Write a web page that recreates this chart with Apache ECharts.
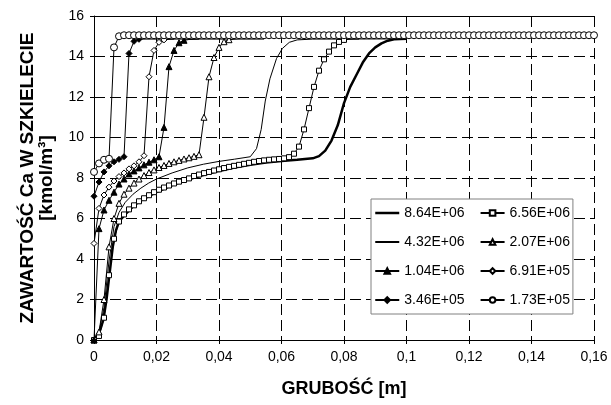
<!DOCTYPE html>
<html>
<head>
<meta charset="utf-8">
<script src="https://cdn.jsdelivr.net/npm/echarts@6/dist/echarts.min.js"></script>
<style>
html,body{margin:0;padding:0;background:#fff;}
#chart{width:611px;height:405px;}
</style>
</head>
<body>
<div id="chart"></div>
<script>
// siatka grubosci [m] dla serii z markerami
var xs = [0, 0.0016, 0.0032, 0.0048, 0.0064, 0.008, 0.0096, 0.0112, 0.0128, 0.0144, 0.016, 0.0176, 0.0192, 0.0208, 0.0224, 0.024, 0.0256, 0.0272, 0.0288, 0.0304,
  0.032, 0.0336, 0.0352, 0.0368, 0.0384, 0.04, 0.0416, 0.0432, 0.0448, 0.0464, 0.048, 0.0496, 0.0512, 0.0528, 0.0544, 0.056, 0.0576, 0.0592, 0.0608, 0.0624,
  0.064, 0.0656, 0.0672, 0.0688, 0.0704, 0.072, 0.0736, 0.0752, 0.0768, 0.0784, 0.08, 0.0816, 0.0832, 0.0848, 0.0864, 0.088, 0.0896, 0.0912, 0.0928, 0.0944,
  0.096, 0.0976, 0.0992, 0.1008, 0.1024, 0.104, 0.1056, 0.1072, 0.1088, 0.1104, 0.112, 0.1136, 0.1152, 0.1168, 0.1184, 0.12, 0.1216, 0.1232, 0.1248, 0.1264,
  0.128, 0.1296, 0.1312, 0.1328, 0.1344, 0.136, 0.1376, 0.1392, 0.1408, 0.1424, 0.144, 0.1456, 0.1472, 0.1488, 0.1504, 0.152, 0.1536, 0.1552, 0.1568, 0.1584, 0.16];

// 8.64E+06 (gruba linia, bez markerow)
var thickX = [0, 0.002, 0.003, 0.004, 0.005, 0.006, 0.007, 0.008, 0.01, 0.0125, 0.015, 0.02, 0.025, 0.03, 0.035, 0.04, 0.045, 0.05, 0.055, 0.06,
  0.065, 0.07, 0.072, 0.074, 0.076, 0.078, 0.08, 0.082, 0.084, 0.086, 0.088, 0.09, 0.092, 0.094, 0.096, 0.1];
var thickY = [0, 0.5, 1.0, 2.0, 3.3, 4.6, 5.4, 5.85, 6.2, 6.6, 6.9, 7.3, 7.65, 7.92, 8.15, 8.35, 8.52, 8.65, 8.76, 8.84,
  8.9, 8.97, 9.08, 9.35, 9.85, 10.6, 11.7, 12.5, 13.1, 13.7, 14.15, 14.45, 14.65, 14.78, 14.85, 14.88];

// 4.32E+06 (cienka linia, bez markerow)
var thinX = [0, 0.0016, 0.0032, 0.0048, 0.0064, 0.008, 0.01, 0.0125, 0.015, 0.0175, 0.02, 0.025, 0.03, 0.035, 0.04, 0.045, 0.05, 0.052, 0.0535, 0.0548,
  0.0563, 0.0584, 0.0603, 0.0625, 0.065, 0.07, 0.1];
var thinY = [0, 0.4, 1.6, 3.9, 5.6, 6.3, 6.8, 7.2, 7.5, 7.75, 7.95, 8.25, 8.5, 8.68, 8.82, 8.93, 9.05, 9.45, 10.4, 11.8,
  12.9, 13.9, 14.4, 14.7, 14.82, 14.86, 14.87];

// serie z markerami (wartosci na siatce xs), ostatnie punkty to plaska linia bez markerow
var sq656 = [0, 0.2, 1.1, 3.2, 5.0, 5.85, 6.2, 6.45, 6.65, 6.85, 7.0, 7.15, 7.3, 7.42, 7.53, 7.63, 7.73, 7.82, 7.9, 7.98,
  8.1, 8.17, 8.24, 8.3, 8.37, 8.43, 8.49, 8.55, 8.6, 8.65, 8.7, 8.75, 8.8, 8.84, 8.87, 8.9, 8.92, 8.94, 8.97, 9.03,
  9.2, 9.55, 10.4, 11.45, 12.5, 13.3, 13.86, 14.24, 14.55, 14.72, 14.82, 14.85, 14.86, 14.86];
var tri207 = [0, 0.4, 2.0, 4.6, 6.0, 6.75, 7.2, 7.5, 7.75, 7.95, 8.12, 8.27, 8.4, 8.52, 8.62, 8.72, 8.8, 8.87, 8.94, 9.0,
  9.07, 9.15, 11.0, 13.0, 13.95, 14.45, 14.73, 14.83, 14.85, 14.86, 14.86, 14.86, 14.86, 14.86, 14.86];
var tri104 = [0, 5.5, 6.42, 6.9, 7.3, 7.7, 7.95, 8.2, 8.35, 8.5, 8.65, 8.78, 8.9, 9.05, 10.5, 13.5, 14.3, 14.68, 14.8,
  14.84, 14.85, 14.86, 14.86, 14.86, 14.86, 14.86, 14.86, 14.86];
var dia691 = [4.77, 6.5, 7.16, 7.55, 7.85, 8.07, 8.25, 8.45, 8.6, 8.8, 9.1, 13.0, 14.3, 14.7, 14.82, 14.85, 14.86, 14.86,
  14.86, 14.86, 14.86, 14.86];
var dia346 = [7.1, 7.8, 8.3, 8.6, 8.8, 8.92, 9.05, 14.15, 14.75, 14.85, 14.86, 14.86, 14.86, 14.86, 14.86, 14.86, 14.86];
var cir173 = [8.3, 8.72, 8.9, 8.95, 14.45, 15.0, 15.05, 15.05, 15.05, 15.05,
  15.05, 15.05, 15.05, 15.05, 15.05, 15.05, 15.05, 15.05, 15.05, 15.05,
  15.05, 15.05, 15.05, 15.05, 15.05, 15.05, 15.05, 15.05, 15.05, 15.05,
  15.05, 15.05, 15.05, 15.05, 15.05, 15.05, 15.05, 15.05, 15.05, 15.05,
  15.05, 15.05, 15.05, 15.05, 15.05, 15.05, 15.05, 15.05, 15.05, 15.05,
  15.05, 15.05, 15.05, 15.05, 15.05, 15.05, 15.05, 15.05, 15.05, 15.05,
  15.05, 15.05, 15.05, 15.05, 15.05, 15.05, 15.05, 15.05, 15.05, 15.05,
  15.05, 15.05, 15.05, 15.05, 15.05, 15.05, 15.05, 15.05, 15.05, 15.05,
  15.05, 15.05, 15.05, 15.05, 15.05, 15.05, 15.05, 15.05, 15.05, 15.05,
  15.05, 15.05, 15.05, 15.05, 15.05, 15.05, 15.05, 15.05, 15.05, 15.05, 15.05];
// ile pierwszych punktow ma marker
var markN = {sq656: 51, tri207: 28, tri104: 19, dia691: 15, dia346: 10, cir173: 101};

var names = ['8.64E+06', '6.56E+06', '4.32E+06', '2.07E+06', '1.04E+06', '6.91E+05', '3.46E+05', '1.73E+05'];

var font = 'Arial, "Liberation Sans", sans-serif';

function zip(xArr, yArr, n){
	var out = [];
	for (var i = 0; i < yArr.length; i++) {
		if (n != null && i >= n) {
			out.push({value: [xArr[i], yArr[i]], symbol: 'none'});
		} else {
			out.push([xArr[i], yArr[i]]);
		}
	}
	return out;
}

var openStyle = {color: '#fff', borderColor: '#000', borderWidth: 1};
var fillStyle = {color: '#000', borderColor: '#000', borderWidth: 1};
var noMark = {color: 'rgba(0,0,0,0)', borderColor: 'rgba(0,0,0,0)', borderWidth: 0};

function markerSeries(name, data, symbol, size, style){
	return {
		name: name,
		type: 'line',
		data: data,
		symbol: symbol,
		symbolSize: size,
		showAllSymbol: true,
		itemStyle: style,
		lineStyle: {color: '#000', width: 1}
	};
}

// legenda - gruba linia dla pierwszej serii
var legendData = [];
$each = function(arr, fn){ for (var i = 0; i < arr.length; i++) fn(i, arr[i]); };
$each(names, function(i, n){
	if (i == 0) {
		legendData.push({name: n, lineStyle: {width: 2.5}});
	} else {
		legendData.push({name: n});
	}
});

var chart = echarts.init(document.getElementById('chart'));
var option = {
	animation: false,
	backgroundColor: '#fff',
	textStyle: {fontFamily: font},
	grid: {left: 94, right: 17, top: 16, bottom: 65},
	legend: {
		left: 371, top: 199, width: 215,
		padding: [7, 3, 7, 3],
		itemGap: 15, itemWidth: 24, itemHeight: 7,
		borderColor: '#808080', borderWidth: 1, backgroundColor: '#fff',
		textStyle: {fontSize: 14, fontFamily: font, color: '#000'},
		data: legendData
	},
	xAxis: [{
		type: 'value', min: 0, max: 0.16, interval: 0.02,
		name: 'GRUBOŚĆ [m]', nameLocation: 'middle', nameGap: 40,
		nameTextStyle: {fontSize: 18, fontWeight: 'bold', color: '#000', fontFamily: font},
		axisLine: {lineStyle: {color: '#000', width: 1}},
		axisTick: {show: true, length: 4, lineStyle: {color: '#000'}},
		axisLabel: {
			fontSize: 14, color: '#000', margin: 10, fontFamily: font,
			formatter: function(v){ return String(+v.toFixed(2)).replace('.', ','); }
		},
		splitLine: {show: true, lineStyle: {color: '#000', type: [11, 5], width: 1}}
	}, {
		type: 'value', position: 'top', min: 0, max: 0.16,
		axisLine: {show: true, lineStyle: {color: '#000', width: 1}},
		axisTick: {show: false}, axisLabel: {show: false}, splitLine: {show: false}
	}],
	yAxis: {
		type: 'value', min: 0, max: 16, interval: 2,
		name: 'ZAWARTOŚĆ Ca W SZKIELECIE\n[kmol/m³]', nameLocation: 'middle', nameGap: 38, nameRotate: 90,
		nameTextStyle: {fontSize: 19, fontWeight: 'bold', color: '#000', fontFamily: font, lineHeight: 19, align: 'center'},
		axisLine: {show: true, lineStyle: {color: '#000', width: 1}},
		axisTick: {show: true, length: 4, lineStyle: {color: '#000'}},
		axisLabel: {fontSize: 14, color: '#000', margin: 10, fontFamily: font},
		splitLine: {show: true, lineStyle: {color: '#000', type: [11, 5], width: 1}}
	},
	series: [
		{
			name: names[0], type: 'line', data: zip(thickX, thickY), symbol: 'none',
			itemStyle: noMark, lineStyle: {color: '#000', width: 2.5}
		},
		markerSeries(names[1], zip(xs, sq656, markN.sq656), 'rect', 5, openStyle),
		{
			name: names[2], type: 'line', data: zip(thinX, thinY), symbol: 'none',
			itemStyle: noMark, lineStyle: {color: '#000', width: 1}
		},
		markerSeries(names[3], zip(xs, tri207, markN.tri207), 'triangle', 6, openStyle),
		markerSeries(names[4], zip(xs, tri104, markN.tri104), 'triangle', 6, fillStyle),
		markerSeries(names[5], zip(xs, dia691, markN.dia691), 'diamond', 6, openStyle),
		markerSeries(names[6], zip(xs, dia346, markN.dia346), 'diamond', 6, fillStyle),
		markerSeries(names[7], zip(xs, cir173, markN.cir173), 'circle', 7, openStyle)
	]
};
chart.setOption(option);
</script>
</body>
</html>
